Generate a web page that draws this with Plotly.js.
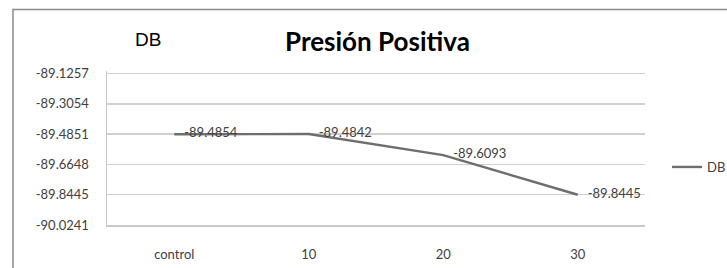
<!DOCTYPE html>
<html>
<head>
<meta charset="utf-8">
<script src="https://cdn.plot.ly/plotly-3.0.1.min.js"></script>
<style>html,body{margin:0;padding:0;background:#fff;}#chart{width:727px;height:268px;}</style>
</head>
<body>
<div id="chart"></div>
<script>
const categories = ["control", "10", "20", "30"];
const dbValues = [-89.4854, -89.4842, -89.6093, -89.8445];
const dbLabels = ["-89.4854", "-89.4842", "-89.6093", "-89.8445"];
const yTickVals = [-89.1257, -89.3054, -89.4851, -89.6648, -89.8445, -90.0241];
const yTickText = ["-89.1257", "-89.3054", "-89.4851", "-89.6648", "-89.8445", "-90.0241"];

const yMin = -90.0241, yMax = -89.11;
const L = 107, R = 645, B = 225, W = 727, H = 268;
const unitPx = 151 / (yTickVals[0] - yTickVals[5]);
const T = 74 - (yMax - yTickVals[0]) * unitPx;
const pw = R - L, ph = B - T;
const px = v => (v - L) / pw;
const py = v => (B - v) / ph;

const trace = {
  x: categories,
  y: dbValues,
  type: 'scatter',
  mode: 'lines+text',
  name: 'DB',
  text: dbLabels,
  texttemplate: '   %{text}',
  textposition: 'middle right',
  textfont: {family: 'Lato, Open Sans, sans-serif', size: 13, color: '#404040'},
  line: {color: '#6e6e6e', width: 2.4},
  cliponaxis: false
};

const layout = {
  width: W, height: H,
  margin: {l: L, r: W - R, t: T, b: H - B, autoexpand: false},
  paper_bgcolor: '#ffffff', plot_bgcolor: '#ffffff',
  font: {family: 'Lato, Open Sans, sans-serif', color: '#404040'},
  showlegend: true,
  legend: {xref: 'container', yref: 'container', x: 667 / W, xanchor: 'left', y: 1 - 167 / H, yanchor: 'middle', font: {family: 'Lato, Open Sans, sans-serif', size: 13, color: '#404040'}, bgcolor: 'rgba(0,0,0,0)', itemwidth: 30},
  xaxis: {
    type: 'category', range: [-0.5, 3.5], showgrid: false, zeroline: false,
    showline: true, linecolor: '#c8c8c8', linewidth: 1.5, ticks: '', ticklabelstandoff: 17,
    tickfont: {family: 'Lato, Open Sans, sans-serif', size: 13, color: '#404040'}
  },
  yaxis: {
    range: [yMin, yMax], tickmode: 'array', tickvals: yTickVals, ticktext: yTickText,
    showgrid: true, gridcolor: '#d0d0d0', gridwidth: 1.5, zeroline: false,
    showline: true, linecolor: '#c8c8c8', linewidth: 1.5, ticks: '', ticklabelstandoff: 14,
    tickfont: {family: 'Lato, Open Sans, sans-serif', size: 13, color: '#404040'}
  },
  shapes: [
    {type: 'rect', xref: 'paper', yref: 'paper', x0: px(13), x1: px(740), y0: py(290), y1: py(10), line: {color: '#8a8a8a', width: 1.5}, fillcolor: 'rgba(0,0,0,0)', layer: 'below'}
  ],
  annotations: [
    {text: '<b>Presión Positiva</b>', xref: 'paper', yref: 'paper', x: px(377), y: py(41), xanchor: 'center', yanchor: 'middle', showarrow: false, font: {family: 'Lato, Open Sans, sans-serif', size: 26, color: '#000'}},
    {text: 'DB', xref: 'paper', yref: 'paper', x: px(148), y: py(40), xanchor: 'center', yanchor: 'middle', showarrow: false, font: {family: 'Liberation Sans, Arial, sans-serif', size: 19, color: '#000'}}
  ]
};

Plotly.newPlot('chart', [trace], layout, {displayModeBar: false, staticPlot: true});
</script>
</body>
</html>
